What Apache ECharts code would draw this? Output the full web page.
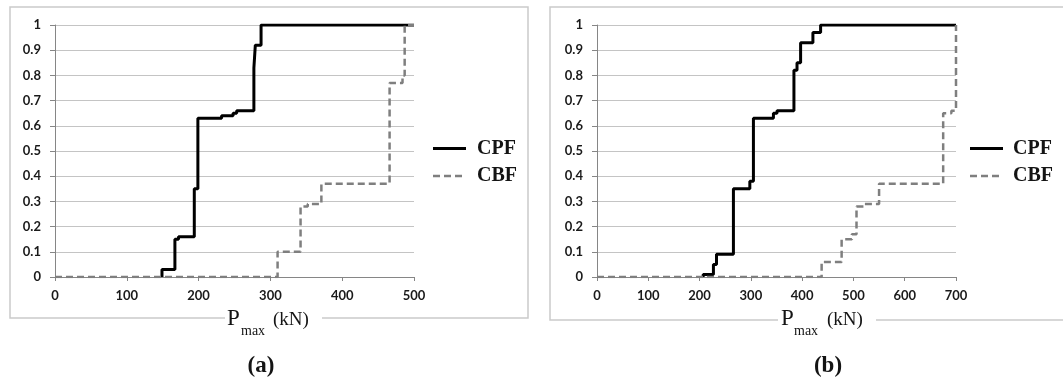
<!DOCTYPE html>
<html>
<head>
<meta charset="utf-8">
<script src="https://cdn.jsdelivr.net/npm/echarts@6/dist/echarts.min.js"></script>
<style>
html,body{margin:0;padding:0;background:#fff;}
#c{width:1063px;height:381px;}
</style>
</head>
<body>
<div id="c"></div>
<script>
// ---- data (P_max in kN, cumulative probability) ----
const xTicksA = [0, 100, 200, 300, 400, 500];
const xTicksB = [0, 100, 200, 300, 400, 500, 600, 700];
const yTicks = [0, 0.1, 0.2, 0.3, 0.4, 0.5, 0.6, 0.7, 0.8, 0.9, 1];

const cpfA = [[149,0],[149,0.03],[167,0.15],[172,0.16],[194,0.35],[199,0.63],[232,0.64],[248,0.65],[253,0.66],[277,0.83],[279,0.92],[287,1.0],[500,1.0]];
const cbfA = [[0,0],[310,0.1],[342,0.28],[352,0.29],[371,0.37],[466,0.77],[484,0.80],[487,1.0],[500,1.0]];

const cpfB = [[207,0],[207,0.01],[227,0.05],[233,0.09],[266,0.35],[298,0.38],[305,0.63],[344,0.65],[351,0.66],[384,0.82],[390,0.85],[397,0.93],[421,0.97],[436,1.0],[700,1.0]];
const cbfB = [[0,0],[438,0.06],[477,0.15],[497,0.17],[506,0.28],[520,0.29],[550,0.37],[675,0.65],[691,0.66],[700,1.0]];

const seriesNames = ['CPF', 'CBF'];
const panelLabels = ['(a)', '(b)'];

// ---- styling ----
const tickFont = {fontFamily: 'Lato, "Liberation Sans", sans-serif', fontWeight: 'bold', fontSize: 13, color: '#1a1a1a'};
const serif = '"Liberation Serif", "DejaVu Serif", serif';
const axisCol = '#868686';
const gridCol = '#c4c4c4';

function xAxis(gi, ticks) {
  return {
    gridIndex: gi, type: 'value', min: ticks[0], max: ticks[ticks.length - 1],
    interval: ticks[1] - ticks[0],
    axisLine: {show: true, lineStyle: {color: axisCol, width: 1}},
    axisTick: {show: true, length: 4, lineStyle: {color: axisCol}},
    axisLabel: Object.assign({margin: 12}, tickFont),
    splitLine: {show: false}
  };
}
function yAxis(gi) {
  return {
    gridIndex: gi, type: 'value', min: yTicks[0], max: yTicks[yTicks.length - 1],
    interval: 0.1,
    axisLine: {show: true, lineStyle: {color: axisCol, width: 1}},
    axisTick: {show: true, length: 5, lineStyle: {color: axisCol}},
    axisLabel: Object.assign({margin: 14, formatter: v => String(+v.toFixed(1))}, tickFont),
    splitLine: {show: true, lineStyle: {color: gridCol, width: 1}}
  };
}
function cpf(gi, data) {
  return {name: seriesNames[0], type: 'line', xAxisIndex: gi, yAxisIndex: gi, step: 'end', symbol: 'none',
    data: data, lineStyle: {color: '#000', width: 3}, z: 3};
}
function cbf(gi, data) {
  return {name: seriesNames[1], type: 'line', xAxisIndex: gi, yAxisIndex: gi, step: 'end', symbol: 'none',
    data: data, lineStyle: {color: '#7f7f7f', width: 2.5, type: [7, 4]}, z: 4};
}

function txt(x, y, text, size, weight, align) {
  return {type: 'text', x: x, y: y, z: 60,
    style: {text: text, fontSize: size, fontFamily: serif, fontWeight: weight, fill: '#141414',
      textAlign: align || 'left', textVerticalAlign: 'middle', align: align || 'left', verticalAlign: 'middle'}};
}

// ---- decorations (frames, axis titles, legends, panel labels) ----
function panelDeco(frame, mask, pX, legLine, legText, label) {
  return [
    {type: 'rect', shape: frame, style: {fill: 'none', stroke: '#cacaca', lineWidth: 1.5}, z: 0},
    {type: 'rect', shape: mask, style: {fill: '#fff'}, z: 50},
    txt(pX[0], 319, 'P', 23, 'normal'),
    txt(pX[1], 331, 'max', 14, 'normal'),
    txt(pX[2], 320, '(kN)', 19, 'normal'),
    {type: 'line', shape: {x1: legLine[0], y1: 148.5, x2: legLine[1], y2: 148.5}, style: {stroke: '#000', lineWidth: 3}, z: 60},
    {type: 'line', shape: {x1: legLine[0], y1: 176, x2: legLine[1], y2: 176}, style: {stroke: '#7f7f7f', lineWidth: 2.5, lineDash: [7, 4]}, z: 60},
    txt(legText, 149, seriesNames[0], 20, 'bold'),
    txt(legText, 176, seriesNames[1], 20, 'bold'),
    txt(label[0], 366, label[1], 23, 'bold', 'center')
  ];
}

const chart = echarts.init(document.getElementById('c'), null, {renderer: 'canvas'});
chart.setOption({
  animation: false,
  backgroundColor: '#fff',
  grid: [
    {left: 55, top: 25, width: 359, height: 252},
    {left: 597, top: 25, width: 359, height: 252}
  ],
  xAxis: [xAxis(0, xTicksA), xAxis(1, xTicksB)],
  yAxis: [yAxis(0), yAxis(1)],
  series: [cpf(0, cpfA), cbf(0, cbfA), cpf(1, cpfB), cbf(1, cbfB)],
  graphic: [].concat(
    panelDeco({x: 10, y: 7, width: 518, height: 311}, {x: 225, y: 311, width: 97, height: 14},
      [227, 241, 273], [433, 466], 477, [261, panelLabels[0]]),
    panelDeco({x: 550, y: 7, width: 530, height: 313}, {x: 778, y: 313, width: 98, height: 14},
      [781, 794, 827], [970, 1003], 1013, [828, panelLabels[1]])
  )
});
</script>
</body>
</html>
